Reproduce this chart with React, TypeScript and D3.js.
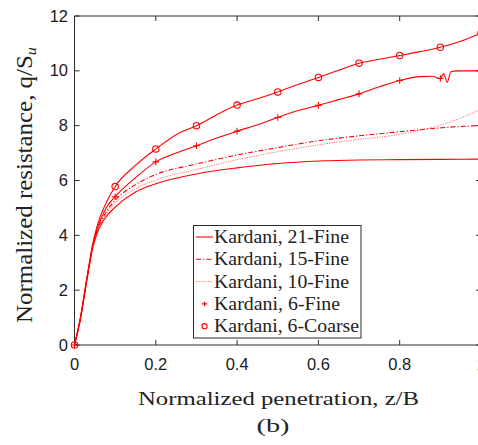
import React from "react";
import * as d3 from "d3";

// ---- data ----
const coarse6Z = [0, 0.015, 0.026, 0.036, 0.045, 0.055, 0.065, 0.08, 0.1, 0.15, 0.2, 0.26, 0.3, 0.35, 0.4, 0.45, 0.5, 0.55, 0.6, 0.65, 0.7, 0.75, 0.8, 0.85, 0.9, 0.95, 1.0];
const coarse6Q = [0, 1.05, 2.05, 2.95, 3.7, 4.3, 4.75, 5.25, 5.78, 6.55, 7.15, 7.75, 8.0, 8.4, 8.75, 8.98, 9.23, 9.5, 9.76, 10.02, 10.28, 10.42, 10.56, 10.7, 10.86, 11.08, 11.38];

const fine6Z = [0, 0.015, 0.026, 0.036, 0.045, 0.055, 0.065, 0.08, 0.1, 0.15, 0.2, 0.25, 0.3, 0.35, 0.4, 0.45, 0.5, 0.55, 0.6, 0.65, 0.7, 0.75, 0.8, 0.85, 0.88, 0.9, 0.908, 0.917, 0.926, 0.94, 1.0];
const fine6Q = [0, 1.0, 2.0, 2.9, 3.65, 4.2, 4.6, 5.05, 5.41, 6.1, 6.68, 7.0, 7.27, 7.55, 7.8, 8.03, 8.3, 8.55, 8.74, 8.95, 9.16, 9.42, 9.65, 9.79, 9.8, 9.72, 9.9, 9.58, 9.97, 10.0, 10.0];

const fine15Z = [0, 0.015, 0.026, 0.036, 0.045, 0.055, 0.065, 0.08, 0.1, 0.15, 0.2, 0.3, 0.4, 0.5, 0.6, 0.7, 0.8, 0.9, 1.0];
const fine15Q = [0, 1.0, 2.0, 2.9, 3.62, 4.15, 4.5, 4.9, 5.28, 5.85, 6.22, 6.6, 6.93, 7.2, 7.45, 7.63, 7.78, 7.92, 8.01];

const fine10Z = [0, 0.015, 0.026, 0.036, 0.045, 0.055, 0.065, 0.08, 0.1, 0.15, 0.2, 0.3, 0.4, 0.5, 0.6, 0.7, 0.8, 0.85, 0.9, 0.95, 1.0];
const fine10Q = [0, 1.0, 1.98, 2.88, 3.6, 4.1, 4.45, 4.82, 5.18, 5.7, 6.02, 6.4, 6.76, 7.05, 7.3, 7.5, 7.68, 7.83, 8.02, 8.28, 8.6];

const fine21Z = [0, 0.015, 0.026, 0.036, 0.045, 0.055, 0.065, 0.08, 0.1, 0.15, 0.2, 0.3, 0.4, 0.5, 0.6, 0.7, 0.8, 0.9, 1.0];
const fine21Q = [0, 0.98, 1.95, 2.85, 3.55, 4.05, 4.38, 4.72, 5.03, 5.58, 5.88, 6.24, 6.46, 6.62, 6.71, 6.75, 6.76, 6.77, 6.78];

const markerZ = [0, 0.1, 0.2, 0.3, 0.4, 0.5, 0.6, 0.7, 0.8, 0.9, 1.0];

const xTicks = [0, 0.2, 0.4, 0.6, 0.8, 1];
const xTickLabels = ["0", "0.2", "0.4", "0.6", "0.8", "1"];
const yTicks = [0, 2, 4, 6, 8, 10, 12];
const yTickLabels = ["0", "2", "4", "6", "8", "10", "12"];

const legendLabels = ["Kardani, 21-Fine", "Kardani, 15-Fine", "Kardani, 10-Fine", "Kardani, 6-Fine", "Kardani, 6-Coarse"];
const legendWidths = [135, 135, 135, 126, 145];

const RED = "#ff0000";
const AX = "#2b2b2b";
const TXT = "#222";

export default function App() {
  const x = d3.scaleLinear().domain([0, 1]).range([74.5, 481]);
  const y = d3.scaleLinear().domain([0, 12]).range([345, 16]);
  const line = d3
    .line<[number, number]>()
    .x((d) => x(d[0]))
    .y((d) => y(d[1]))
    .curve(d3.curveMonotoneX);
  const pts = (zs: number[], qs: number[]) => zs.map((z, i) => [z, qs[i]] as [number, number]);

  const series = [
    { p: pts(fine21Z, fine21Q), dash: undefined, w: 1.1, op: 1 },
    { p: pts(fine15Z, fine15Q), dash: "5,2,1.2,2", w: 1.1, op: 1 },
    { p: pts(fine10Z, fine10Q), dash: "1,1.4", w: 0.9, op: 0.75 },
    { p: pts(fine6Z, fine6Q), dash: undefined, w: 1.1, op: 1 },
    { p: pts(coarse6Z, coarse6Q), dash: undefined, w: 1.1, op: 1 },
  ];

  const fineMarks = pts(fine6Z, fine6Q).filter((d) => markerZ.some((m) => Math.abs(m - d[0]) < 1e-9));
  const coarseMarks = pts(coarse6Z, coarse6Q).filter((d) => markerZ.some((m) => Math.abs(m - d[0]) < 1e-9));

  const x0 = 74.5, x1 = 481, y0 = 345, y1 = 16;
  const tl = 5;
  const lgX = 193.5, lgY = 225.5, lgW = 167.5, lgH = 112.5;
  const rowY = (i: number) => 237 + i * 22.3;

  return (
    <svg width={478} height={445} style={{ position: "absolute", left: 0, top: 0, background: "#fff" }}>
      <rect x={0} y={0} width={478} height={445} fill="#fff" />
      {/* axes box */}
      <g stroke={AX} strokeWidth={1} fill="none">
        <line x1={x0} y1={y0} x2={x1} y2={y0} />
        <line x1={x0} y1={y1} x2={x1} y2={y1} />
        <line x1={x0} y1={y0} x2={x0} y2={y1} />
        <line x1={x1} y1={y0} x2={x1} y2={y1} />
        {xTicks.map((t) => (
          <g key={"xt" + t}>
            <line x1={x(t)} x2={x(t)} y1={y0} y2={y0 - tl} />
            <line x1={x(t)} x2={x(t)} y1={y1} y2={y1 + tl} />
          </g>
        ))}
        {yTicks.map((t) => (
          <g key={"yt" + t}>
            <line x1={x0} x2={x0 + tl} y1={y(t)} y2={y(t)} />
            <line x1={x1} x2={x1 - tl} y1={y(t)} y2={y(t)} />
          </g>
        ))}
      </g>
      {/* tick labels */}
      <g fontFamily="'Liberation Sans', Arial, sans-serif" fontSize={16.5} fill="#1a1a1a">
        {xTicks.map((t, i) => (
          <text key={"xl" + t} x={x(t)} y={370} textAnchor="middle">
            {xTickLabels[i]}
          </text>
        ))}
        {yTicks.map((t, i) => (
          <text key={"yl" + t} x={68} y={y(t) + 5.5} textAnchor="end">
            {yTickLabels[i]}
          </text>
        ))}
      </g>
      {/* curves */}
      <g fill="none" stroke={RED}>
        {series.map((s, i) => (
          <path key={"s" + i} d={line(s.p) || ""} strokeWidth={s.w} strokeDasharray={s.dash} strokeOpacity={s.op} />
        ))}
        {fineMarks.map((d, i) => (
          <path key={"pm" + i} d={`M${x(d[0]) - 3.3},${y(d[1])}h6.6M${x(d[0])},${y(d[1]) - 3.3}v6.6`} strokeWidth={1.1} />
        ))}
        {coarseMarks.map((d, i) => (
          <circle key={"cm" + i} cx={x(d[0])} cy={y(d[1])} r={3.2} strokeWidth={1.1} />
        ))}
      </g>
      {/* legend */}
      <rect x={lgX} y={lgY} width={lgW} height={lgH} fill="#fff" stroke={AX} strokeWidth={1} />
      <g fill="none" stroke={RED}>
        <line x1={196} x2={213} y1={rowY(0)} y2={rowY(0)} strokeWidth={1.1} />
        <line x1={196} x2={213} y1={rowY(1)} y2={rowY(1)} strokeWidth={1.1} strokeDasharray="5,2,1.2,2" />
        <line x1={196} x2={213} y1={rowY(2)} y2={rowY(2)} strokeWidth={0.9} strokeDasharray="1,1.4" strokeOpacity={0.75} />
        <path d={`M${204.5 - 2.5},${rowY(3)}h5M${204.5},${rowY(3) - 2.5}v5`} strokeWidth={1.1} />
        <circle cx={204.5} cy={rowY(4)} r={2.6} strokeWidth={1.1} />
      </g>
      <g fontFamily="'Liberation Serif', 'Times New Roman', serif" fontSize={18} fill={TXT}>
        {legendLabels.map((l, i) => (
          <text key={l} x={214} y={rowY(i) + 6} textLength={legendWidths[i]} lengthAdjust="spacingAndGlyphs">
            {l}
          </text>
        ))}
      </g>
      {/* axis labels */}
      <g fontFamily="'Liberation Serif', 'Times New Roman', serif" fill={TXT}>
        <text x={278.5} y={405} textAnchor="middle" fontSize={18} textLength={281} lengthAdjust="spacingAndGlyphs">
          Normalized penetration, z/B
        </text>
        <text x={273} y={432} textAnchor="middle" fontSize={19} textLength={33} lengthAdjust="spacingAndGlyphs">
          (b)
        </text>
        <text
          transform="translate(32,185) rotate(-90)"
          textAnchor="middle"
          fontSize={23}
          textLength={276}
          lengthAdjust="spacingAndGlyphs"
        >
          Normalized resistance, q/S
          <tspan fontSize={15} fontStyle="italic" dy={4}>
            u
          </tspan>
        </text>
      </g>
    </svg>
  );
}
